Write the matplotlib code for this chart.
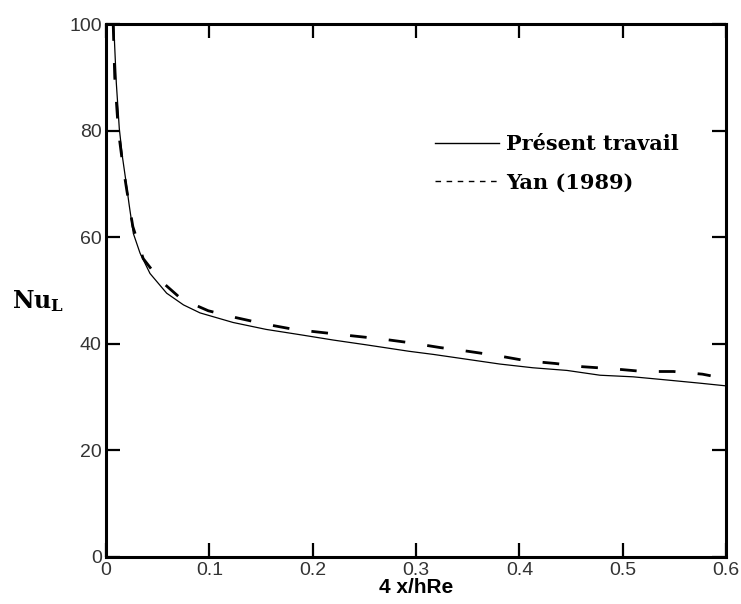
import matplotlib
matplotlib.use("Agg")
import matplotlib.pyplot as plt
from matplotlib.lines import Line2D

# Nombre de Nusselt local le long du canal
x_present = [0.0075, 0.0100, 0.0129, 0.0160, 0.0194, 0.0225, 0.0265, 0.033,
             0.0426, 0.0587, 0.075, 0.091, 0.123, 0.155, 0.188, 0.220, 0.252,
             0.293, 0.317, 0.349, 0.381, 0.413, 0.446, 0.478, 0.510, 0.543,
             0.575, 0.600]
nu_present = [100, 89, 80.4, 75, 70.4, 66, 60.7, 57.0, 53.2, 49.5, 47.3, 45.8,
              44.0, 42.7, 41.7, 40.7, 39.8, 38.6, 38.0, 37.1, 36.2, 35.5, 35.0,
              34.1, 33.8, 33.2, 32.6, 32.1]

x_yan = [0.0070, 0.0085, 0.0120, 0.016, 0.020, 0.026, 0.036, 0.052, 0.073,
         0.099, 0.126, 0.154, 0.182, 0.210, 0.238, 0.267, 0.294, 0.323, 0.350,
         0.378, 0.407, 0.435, 0.461, 0.491, 0.520, 0.549, 0.577, 0.585]
nu_yan = [100, 90, 80, 74, 69, 62, 56.0, 52.0, 48.4, 46.2, 44.9, 43.7, 42.7,
          42.1, 41.5, 40.9, 40.2, 39.3, 38.6, 37.8, 36.8, 36.3, 35.7, 35.3,
          34.8, 34.8, 34.3, 34.0]

xticks = [0, 0.1, 0.2, 0.3, 0.4, 0.5, 0.6]
xtick_labels = ["0", "0.1", "0.2", "0.3", "0.4", "0.5", "0.6"]
yticks = [0, 20, 40, 60, 80, 100]

plt.rcParams['mathtext.fontset'] = 'dejavuserif'

fig = plt.figure(figsize=(7.41, 6.04), dpi=100)
ax = fig.add_axes([0.143, 0.078, 0.837, 0.882])

ax.plot(x_present, nu_present, color='k', lw=0.9)
ax.plot(x_yan, nu_yan, color='k', lw=2.0, dashes=(6, 8))

ax.set_xlim(0, 0.6)
ax.set_ylim(0, 100)
ax.set_xticks(xticks)
ax.set_xticklabels(xtick_labels)
ax.set_yticks(yticks)

for lab in ax.get_xticklabels() + ax.get_yticklabels():
    lab.set_fontfamily(['Liberation Sans Narrow', 'Liberation Sans'])
    lab.set_fontsize(14)
    lab.set_color('#333333')

ax.tick_params(direction='in', length=10, width=1.6, top=True, right=True)
ax.tick_params(axis='x', pad=4)
ax.tick_params(axis='y', pad=3)
for s in ax.spines.values():
    s.set_linewidth(2.2)

ax.set_xlabel("4 x/hRe", fontfamily='Liberation Sans', fontweight='bold',
              fontsize=15, labelpad=-1)
ax.set_ylabel(r"$\mathbf{Nu_L}$", fontsize=17, rotation=0, va='center')
ax.yaxis.set_label_coords(-0.11, 0.48)

handles = [Line2D([], [], color='k', lw=1.0),
           Line2D([], [], color='k', lw=1.0, dashes=(4, 4))]
ax.legend(handles, ["Présent travail", "Yan (1989)"], loc='upper left',
          bbox_to_anchor=(0.5, 0.829), frameon=False, handlelength=3.1,
          handletextpad=0.33, labelspacing=0.88,
          prop=dict(family='DejaVu Serif', weight='bold', size=15))

fig.savefig("out.png", dpi=100)
